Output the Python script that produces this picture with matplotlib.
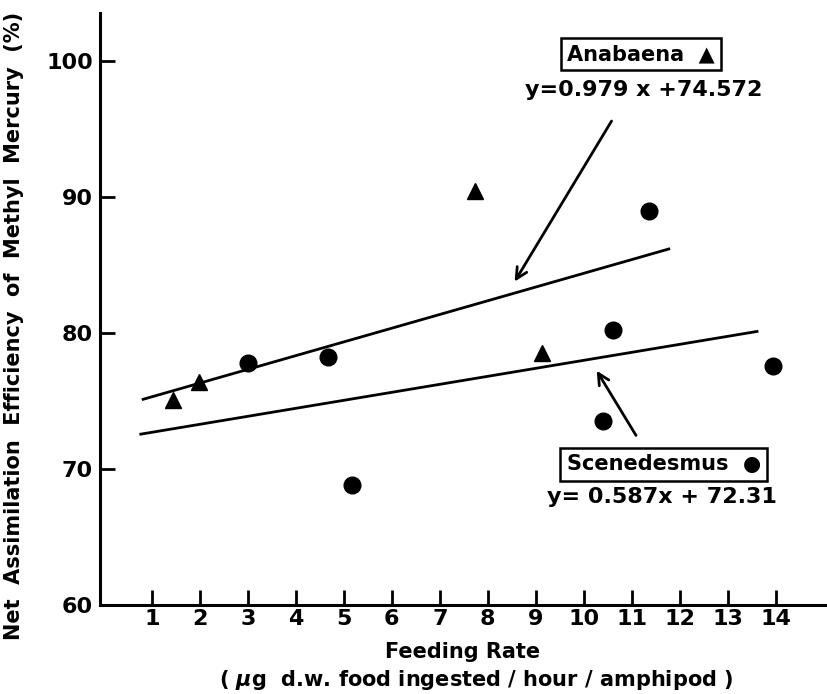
import numpy as np
import matplotlib.pyplot as plt

# Anabaena (triangles)
ana_x = [1.44, 1.99, 7.74, 9.12]
ana_y = [75.1, 76.4, 90.4, 78.5]
# Scenedesmus (circles)
sce_x = [3.01, 4.66, 5.18, 10.41, 10.60, 11.37, 13.94]
sce_y = [77.8, 78.2, 68.8, 73.5, 80.2, 89.0, 77.6]

# regression lines as drawn (end points)
ana_line_x = [0.79, 11.8]
ana_line_y = [75.1, 86.2]
sce_line_x = [0.74, 13.64]
sce_line_y = [72.55, 80.13]

x_ticks = list(range(1, 15))
y_ticks = [60, 70, 80, 90, 100]

plt.rcParams['font.family'] = ['DejaVu Sans']
plt.rcParams['font.weight'] = 'bold'

fig = plt.figure(figsize=(8.27, 6.94), dpi=100)
ax = fig.add_axes([0.121, 0.128, 0.879, 0.853])

ax.plot(ana_line_x, ana_line_y, color='black', lw=2, solid_capstyle='butt')
ax.plot(sce_line_x, sce_line_y, color='black', lw=2, solid_capstyle='butt')
ax.plot(ana_x, ana_y, '^', color='black', ms=11, ls='none', clip_on=False)
ax.plot(sce_x, sce_y, 'o', color='black', ms=12, ls='none', clip_on=False)

ax.set_xlim(-0.08, 15.07)
ax.set_ylim(60, 103.5)
ax.set_xticks(x_ticks)
ax.set_yticks(y_ticks)
ax.tick_params(direction='in', length=11, width=2, labelsize=16, pad=3)
ax.tick_params(axis='y', pad=5)
for s in ['top', 'right']:
    ax.spines[s].set_visible(False)
for s in ['left', 'bottom']:
    ax.spines[s].set_linewidth(2.2)

ax.set_ylabel('Net  Assimilation  Efficiency  of  Methyl  Mercury  (%)',
              fontsize=15, fontweight='bold')
ax.yaxis.set_label_coords(-0.105, 0.472)

# x label, two lines with slightly different centres as in the original
ax.set_xlabel('Feeding Rate', fontsize=15, fontweight='bold')
ax.xaxis.set_label_coords(0.498, -0.062)
ax.text(0.517, -0.106, '( $\\mu$g  d.w. food ingested / hour / amphipod )',
        transform=ax.transAxes, ha='center', va='top',
        fontsize=15, fontweight='bold')

# annotation arrows
ax.annotate('', xy=(8.53, 83.6), xytext=(10.61, 95.75),
            arrowprops=dict(arrowstyle='->', lw=2, color='black', mutation_scale=20))
ax.annotate('', xy=(10.24, 77.4), xytext=(11.12, 72.3),
            arrowprops=dict(arrowstyle='->', lw=2, color='black', mutation_scale=20))

box = dict(boxstyle='square,pad=0.3', fc='white', ec='black', lw=1.8)
ax.text(11.2, 100.5, 'Anabaena  \u25B2', ha='center', va='center',
        fontsize=15, fontweight='bold', bbox=box)
ax.text(11.25, 97.85, 'y=0.979 x +74.572', ha='center', va='center',
        fontsize=16, fontweight='bold')
ax.text(11.67, 70.35, 'Scenedesmus  \u25CF', ha='center', va='center',
        fontsize=15, fontweight='bold', bbox=box)
ax.text(11.62, 67.95, 'y= 0.587x + 72.31', ha='center', va='center',
        fontsize=16, fontweight='bold')

fig.savefig('out.png', dpi=100)
